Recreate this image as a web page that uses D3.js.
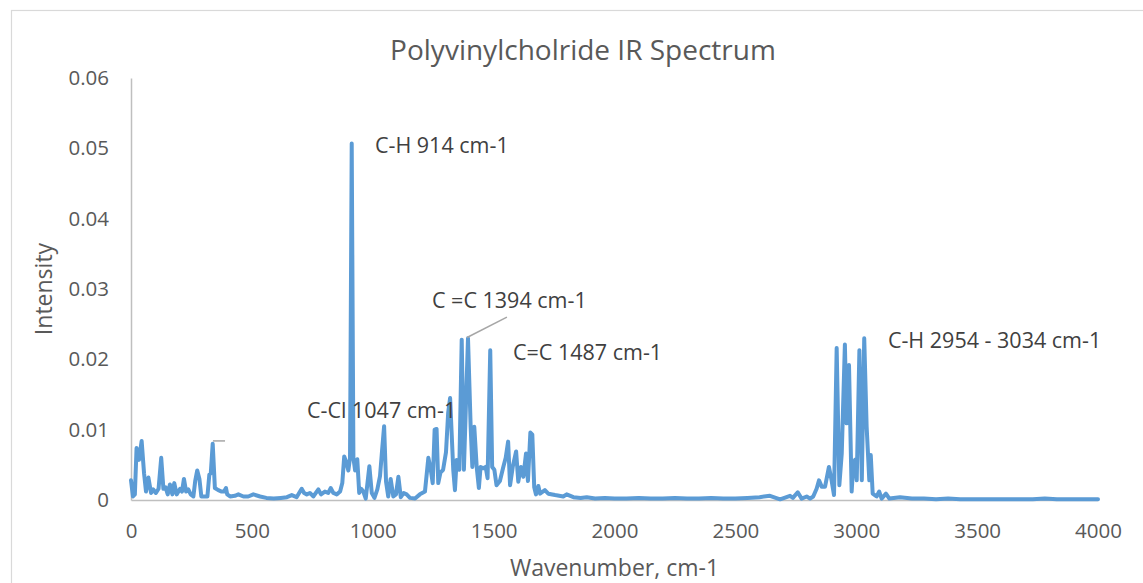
<!DOCTYPE html>
<html>
<head>
<meta charset="utf-8">
<script src="https://cdn.jsdelivr.net/npm/d3@7"></script>
<style>
    body { margin: 0; background: #fff; }
    svg { display: block; }
</style>
</head>
<body>
<div id="plot-area"><svg></svg></div>
<script>
// data
// far IR / low wavenumber region
const lowRegion = [
    {xValue: 0, yValue: 0.0028}, {xValue: 8, yValue: 0.0005}, {xValue: 16, yValue: 0.0008},
    {xValue: 23, yValue: 0.0074}, {xValue: 33, yValue: 0.0057}, {xValue: 44, yValue: 0.0084},
    {xValue: 54, yValue: 0.0038}, {xValue: 62, yValue: 0.0012}, {xValue: 72, yValue: 0.0032},
    {xValue: 83, yValue: 0.0010}, {xValue: 92, yValue: 0.0015}, {xValue: 103, yValue: 0.0010},
    {xValue: 114, yValue: 0.0016}, {xValue: 125, yValue: 0.0060}, {xValue: 134, yValue: 0.0016},
    {xValue: 143, yValue: 0.0018}, {xValue: 152, yValue: 0.0008}, {xValue: 161, yValue: 0.0022},
    {xValue: 171, yValue: 0.0008}, {xValue: 179, yValue: 0.0024}, {xValue: 189, yValue: 0.0008},
    {xValue: 203, yValue: 0.0016}, {xValue: 211, yValue: 0.0012}, {xValue: 219, yValue: 0.0030},
    {xValue: 228, yValue: 0.0012}, {xValue: 237, yValue: 0.0015}, {xValue: 247, yValue: 0.0008},
    {xValue: 258, yValue: 0.0005}, {xValue: 266, yValue: 0.0028}, {xValue: 274, yValue: 0.0042},
    {xValue: 283, yValue: 0.0030}, {xValue: 291, yValue: 0.0005}, {xValue: 306, yValue: 0.0005},
    {xValue: 316, yValue: 0.0005}, {xValue: 324, yValue: 0.0036}, {xValue: 330, yValue: 0.0038},
    {xValue: 338, yValue: 0.0080}, {xValue: 347, yValue: 0.0017}, {xValue: 361, yValue: 0.0014},
    {xValue: 375, yValue: 0.0012}, {xValue: 385, yValue: 0.0012}, {xValue: 393, yValue: 0.0017},
    {xValue: 398, yValue: 0.0008}, {xValue: 410, yValue: 0.0005}, {xValue: 430, yValue: 0.0006},
    {xValue: 444, yValue: 0.0008}, {xValue: 465, yValue: 0.0005}, {xValue: 485, yValue: 0.0005},
    {xValue: 506, yValue: 0.0008}, {xValue: 534, yValue: 0.0005}, {xValue: 560, yValue: 0.0003},
    {xValue: 590, yValue: 0.0002}, {xValue: 620, yValue: 0.0003}, {xValue: 645, yValue: 0.0004},
    {xValue: 665, yValue: 0.0007}, {xValue: 685, yValue: 0.0004}, {xValue: 706, yValue: 0.0016},
    {xValue: 716, yValue: 0.0010}, {xValue: 727, yValue: 0.0008}, {xValue: 740, yValue: 0.0010},
    {xValue: 754, yValue: 0.0005}, {xValue: 775, yValue: 0.0015}, {xValue: 786, yValue: 0.0008},
    {xValue: 802, yValue: 0.0012}, {xValue: 816, yValue: 0.0010}, {xValue: 826, yValue: 0.0017},
    {xValue: 837, yValue: 0.0010}, {xValue: 851, yValue: 0.0008}, {xValue: 865, yValue: 0.0012}
];

// fingerprint region (C-H bend, C-Cl, C=C)
const fingerprint = [
    {xValue: 874, yValue: 0.0024}, {xValue: 882, yValue: 0.0062}, {xValue: 892, yValue: 0.0052},
    {xValue: 899, yValue: 0.0042}, {xValue: 906, yValue: 0.0060}, {xValue: 913, yValue: 0.0507},
    {xValue: 920, yValue: 0.0060}, {xValue: 927, yValue: 0.0042}, {xValue: 936, yValue: 0.0058},
    {xValue: 944, yValue: 0.0010}, {xValue: 952, yValue: 0.0016}, {xValue: 961, yValue: 0.0012},
    {xValue: 971, yValue: 0.0002}, {xValue: 986, yValue: 0.0048}, {xValue: 996, yValue: 0.0010},
    {xValue: 1007, yValue: 0.0003}, {xValue: 1019, yValue: 0.0015}, {xValue: 1030, yValue: 0.0034},
    {xValue: 1038, yValue: 0.0068}, {xValue: 1047, yValue: 0.0105}, {xValue: 1055, yValue: 0.0026},
    {xValue: 1064, yValue: 0.0005}, {xValue: 1074, yValue: 0.0030}, {xValue: 1085, yValue: 0.0005},
    {xValue: 1096, yValue: 0.0008}, {xValue: 1106, yValue: 0.0033}, {xValue: 1116, yValue: 0.0004},
    {xValue: 1128, yValue: 0.0010}, {xValue: 1140, yValue: 0.0008}, {xValue: 1154, yValue: 0.0003},
    {xValue: 1175, yValue: 0.0002}, {xValue: 1195, yValue: 0.0008}, {xValue: 1216, yValue: 0.0012},
    {xValue: 1230, yValue: 0.0060}, {xValue: 1240, yValue: 0.0043}, {xValue: 1248, yValue: 0.0024},
    {xValue: 1256, yValue: 0.0100}, {xValue: 1264, yValue: 0.0101}, {xValue: 1271, yValue: 0.0024},
    {xValue: 1280, yValue: 0.0039}, {xValue: 1291, yValue: 0.0043}, {xValue: 1303, yValue: 0.0068},
    {xValue: 1312, yValue: 0.0124}, {xValue: 1320, yValue: 0.0145}, {xValue: 1333, yValue: 0.0043},
    {xValue: 1340, yValue: 0.0014}, {xValue: 1347, yValue: 0.0057}, {xValue: 1358, yValue: 0.0043},
    {xValue: 1368, yValue: 0.0228}, {xValue: 1377, yValue: 0.0043}, {xValue: 1394, yValue: 0.0230},
    {xValue: 1405, yValue: 0.0104}, {xValue: 1412, yValue: 0.0047}, {xValue: 1420, yValue: 0.0104},
    {xValue: 1430, yValue: 0.0047}, {xValue: 1439, yValue: 0.0017}, {xValue: 1446, yValue: 0.0047},
    {xValue: 1457, yValue: 0.0045}, {xValue: 1467, yValue: 0.0047}, {xValue: 1475, yValue: 0.0031},
    {xValue: 1486, yValue: 0.0213}, {xValue: 1494, yValue: 0.0047}, {xValue: 1503, yValue: 0.0043},
    {xValue: 1512, yValue: 0.0021}, {xValue: 1526, yValue: 0.0027}, {xValue: 1540, yValue: 0.0047},
    {xValue: 1550, yValue: 0.0060}, {xValue: 1560, yValue: 0.0083}, {xValue: 1568, yValue: 0.0021},
    {xValue: 1579, yValue: 0.0047}, {xValue: 1593, yValue: 0.0069}, {xValue: 1602, yValue: 0.0026},
    {xValue: 1613, yValue: 0.0047}, {xValue: 1623, yValue: 0.0033}, {xValue: 1634, yValue: 0.0066},
    {xValue: 1642, yValue: 0.0027}, {xValue: 1652, yValue: 0.0096}, {xValue: 1660, yValue: 0.0093},
    {xValue: 1668, yValue: 0.0018}, {xValue: 1675, yValue: 0.0008}, {xValue: 1685, yValue: 0.0020},
    {xValue: 1692, yValue: 0.0009}, {xValue: 1712, yValue: 0.0014}, {xValue: 1726, yValue: 0.0009},
    {xValue: 1754, yValue: 0.0007}, {xValue: 1788, yValue: 0.0005}, {xValue: 1802, yValue: 0.0008}
];

// quiet stretch between fingerprint and C-H stretch
const midBaseline = [
    {xValue: 1830, yValue: 0.0004}, {xValue: 1860, yValue: 0.0003}, {xValue: 1885, yValue: 0.0004},
    {xValue: 1920, yValue: 0.0002}, {xValue: 1960, yValue: 0.0003}, {xValue: 2000, yValue: 0.0002},
    {xValue: 2050, yValue: 0.0002}, {xValue: 2100, yValue: 0.0003}, {xValue: 2150, yValue: 0.0002},
    {xValue: 2200, yValue: 0.0002}, {xValue: 2250, yValue: 0.0003}, {xValue: 2300, yValue: 0.0002},
    {xValue: 2350, yValue: 0.0002}, {xValue: 2400, yValue: 0.0003}, {xValue: 2450, yValue: 0.0002},
    {xValue: 2500, yValue: 0.0002}, {xValue: 2550, yValue: 0.0003}, {xValue: 2600, yValue: 0.0004},
    {xValue: 2643, yValue: 0.0006}, {xValue: 2685, yValue: 0.0001}, {xValue: 2726, yValue: 0.0006},
    {xValue: 2738, yValue: 0.0003}, {xValue: 2758, yValue: 0.0011}, {xValue: 2774, yValue: 0.0002},
    {xValue: 2795, yValue: 0.0005}, {xValue: 2809, yValue: 0.0002}, {xValue: 2822, yValue: 0.0005}
];

// C-H stretch region
const chStretch = [
    {xValue: 2836, yValue: 0.0016}, {xValue: 2846, yValue: 0.0028}, {xValue: 2857, yValue: 0.0019},
    {xValue: 2871, yValue: 0.0019}, {xValue: 2887, yValue: 0.0047}, {xValue: 2898, yValue: 0.0028},
    {xValue: 2908, yValue: 0.0007}, {xValue: 2919, yValue: 0.0216}, {xValue: 2930, yValue: 0.0021},
    {xValue: 2940, yValue: 0.0066}, {xValue: 2953, yValue: 0.0221}, {xValue: 2960, yValue: 0.0109},
    {xValue: 2970, yValue: 0.0192}, {xValue: 2981, yValue: 0.0012}, {xValue: 2988, yValue: 0.0052},
    {xValue: 2995, yValue: 0.0057}, {xValue: 3002, yValue: 0.0028}, {xValue: 3013, yValue: 0.0213},
    {xValue: 3023, yValue: 0.0028}, {xValue: 3033, yValue: 0.0230}, {xValue: 3043, yValue: 0.0104},
    {xValue: 3054, yValue: 0.0028}, {xValue: 3060, yValue: 0.0064}, {xValue: 3068, yValue: 0.0009},
    {xValue: 3084, yValue: 0.0005}, {xValue: 3095, yValue: 0.0012}, {xValue: 3105, yValue: 0.0002},
    {xValue: 3123, yValue: 0.0009}, {xValue: 3137, yValue: 0.0002}
];

// tail out to 4000
const highBaseline = [
    {xValue: 3181, yValue: 0.0004}, {xValue: 3230, yValue: 0.0002}, {xValue: 3280, yValue: 0.0002},
    {xValue: 3330, yValue: 0.0001}, {xValue: 3380, yValue: 0.0002}, {xValue: 3430, yValue: 0.0001},
    {xValue: 3480, yValue: 0.0001}, {xValue: 3530, yValue: 0.0001}, {xValue: 3580, yValue: 0.0001},
    {xValue: 3630, yValue: 0.0001}, {xValue: 3680, yValue: 0.0001}, {xValue: 3730, yValue: 0.0001},
    {xValue: 3780, yValue: 0.0002}, {xValue: 3830, yValue: 0.0001}, {xValue: 3880, yValue: 0.0001},
    {xValue: 3930, yValue: 0.0001}, {xValue: 3970, yValue: 0.0001}, {xValue: 4000, yValue: 0.0001}
];

const xTicks = [0, 500, 1000, 1500, 2000, 2500, 3000, 3500, 4000];
const yTicks = [0, 0.01, 0.02, 0.03, 0.04, 0.05, 0.06];

// peak labels, anchored in data units
const peakLabels = [
    {text: 'C-H 914 cm-1', xValue: 1009, yValue: 0.0505},
    {text: 'C =C 1394 cm-1', xValue: 1245, yValue: 0.0284},
    {text: 'C=C 1487 cm-1', xValue: 1580, yValue: 0.0210},
    {text: 'C-Cl 1047 cm-1', xValue: 728, yValue: 0.0128},
    {text: 'C-H 2954 - 3034 cm-1', xValue: 3131, yValue: 0.0227}
];

// leader lines [from, to] in data units
const leaders = [
    [{xValue: 1390, yValue: 0.0231}, {xValue: 1555, yValue: 0.0260}],
    [{xValue: 339, yValue: 0.0084}, {xValue: 389, yValue: 0.0084}]
];

const blue = '#5B9BD5';
const textGrey = '#595959';
const font = '"Open Sans", sans-serif';

// viewport
let margin = {top: 78, right: 45, bottom: 83, left: 131},
    width = 1143 - margin.left - margin.right,
    height = 583 - margin.top - margin.bottom;

let x = d3.scaleLinear().domain([0, 4000]).range([0, width]);
let y = d3.scaleLinear().domain([0, 0.06]).range([height, 0]);

const valueline = d3.line()
    .x(function (d) { return x(d.xValue); })
    .y(function (d) { return y(d.yValue); });

let svg = d3.select('#plot-area').select('svg')
    .attr('width', 1143)
    .attr('height', 583);

// chart area frame
svg.append('rect')
    .attr('x', 11.5)
    .attr('y', 10.5)
    .attr('width', 1200)
    .attr('height', 700)
    .attr('fill', '#fff')
    .attr('stroke', '#d9d9d9')
    .attr('stroke-width', 1.2);

let g = svg.append('g')
    .attr('transform', 'translate(' + margin.left + ',' + margin.top + ')');

// Y axis
let yAxis = g.append('g')
    .attr('class', 'yaxis')
    .call(d3.axisLeft(y)
        .tickValues(yTicks)
        .tickSize(0)
        .tickPadding(22)
        .tickFormat(function (d) { return d === 0 ? '0' : d3.format('.2f')(d); }));

// X axis
let xAxis = g.append('g')
    .attr('class', 'xaxis')
    .attr('transform', 'translate(0,' + height + ')')
    .call(d3.axisBottom(x)
        .tickValues(xTicks)
        .tickSize(0)
        .tickPadding(23)
        .tickFormat(d3.format('')));

[xAxis, yAxis].forEach(function (a) {
    a.select('.domain').attr('stroke', '#bfbfbf').attr('stroke-width', 1.5);
    a.selectAll('text')
        .attr('font-family', font)
        .attr('font-size', '20.5px')
        .attr('fill', textGrey);
});

// spectrum
const spectrum = [].concat(lowRegion, fingerprint, midBaseline, chStretch, highBaseline);

g.append('path')
    .datum(spectrum)
    .attr('fill', 'none')
    .style('stroke', blue)
    .style('stroke-width', 4)
    .style('stroke-linejoin', 'round')
    .style('stroke-linecap', 'round')
    .attr('d', valueline);

// leader lines
g.selectAll('.leader')
    .data(leaders)
    .enter().append('line')
    .attr('class', 'leader')
    .attr('x1', function (d) { return x(d[0].xValue); })
    .attr('y1', function (d) { return y(d[0].yValue); })
    .attr('x2', function (d) { return x(d[1].xValue); })
    .attr('y2', function (d) { return y(d[1].yValue); })
    .attr('stroke', '#a6a6a6')
    .attr('stroke-width', 1.5);

// peak labels
g.selectAll('.peak-label')
    .data(peakLabels)
    .enter().append('text')
    .attr('class', 'peak-label')
    .attr('x', function (d) { return x(d.xValue); })
    .attr('y', function (d) { return y(d.yValue); })
    .attr('dy', '0.36em')
    .attr('font-family', font)
    .attr('font-size', '21.5px')
    .attr('fill', '#404040')
    .text(function (d) { return d.text; });

// Labelling
svg.append('text')
    .attr('x', 583)
    .attr('y', 60)
    .attr('text-anchor', 'middle')
    .attr('font-family', font)
    .attr('font-size', '28px')
    .attr('fill', textGrey)
    .text('Polyvinylcholride IR Spectrum');

svg.append('text')
    .attr('x', margin.left + width / 2)
    .attr('y', 576)
    .attr('text-anchor', 'middle')
    .attr('font-family', font)
    .attr('font-size', '23px')
    .attr('fill', textGrey)
    .text('Wavenumber, cm-1');

svg.append('text')
    .attr('transform', 'translate(52,' + (margin.top + height / 2) + ') rotate(-90)')
    .attr('text-anchor', 'middle')
    .attr('font-family', font)
    .attr('font-size', '23px')
    .attr('fill', textGrey)
    .text('Intensity');
</script>
</body>
</html>
